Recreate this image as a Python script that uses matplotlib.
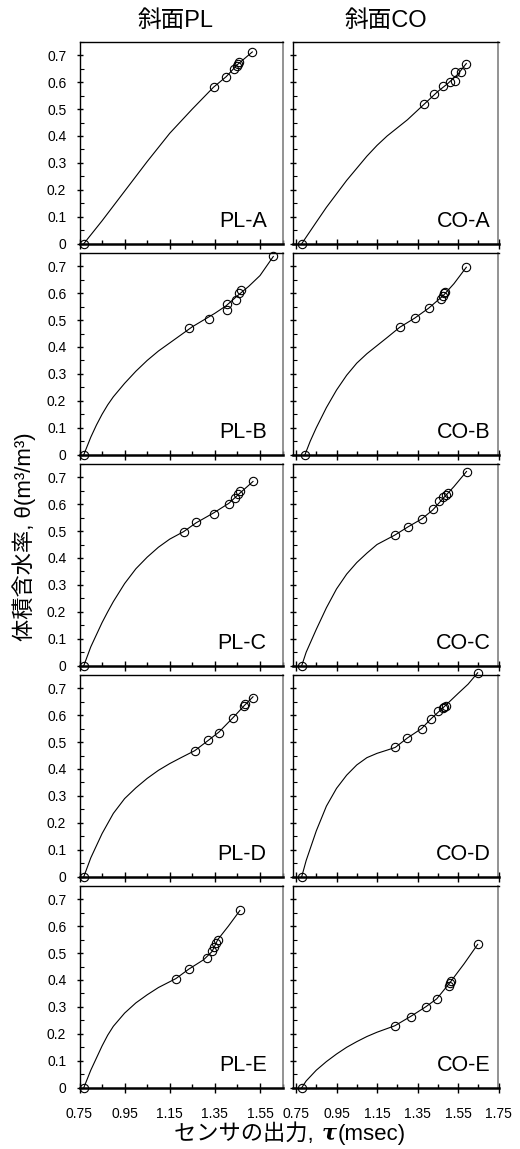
import numpy as np
import matplotlib.pyplot as plt
from matplotlib.offsetbox import TextArea, HPacker, AnnotationBbox

plt.rcParams['font.family'] = ['Liberation Sans', 'Noto Sans CJK JP']

# ---- data ----
# measured points (first one is the dry point at theta = 0)
pl_a_x = [0.769, 1.344, 1.399, 1.436, 1.446, 1.452, 1.457, 1.516]
pl_a_y = [0.0, 0.581, 0.619, 0.650, 0.660, 0.669, 0.675, 0.712]
pl_a_cx = [0.769, 0.85, 0.95, 1.05, 1.15, 1.25, 1.344, 1.40, 1.45, 1.516]
pl_a_cy = [0.0, 0.085, 0.195, 0.305, 0.41, 0.50, 0.581, 0.62, 0.665, 0.712]

co_a_x = [0.778, 1.384, 1.430, 1.474, 1.512, 1.533, 1.533, 1.566, 1.591]
co_a_y = [0.0, 0.520, 0.554, 0.585, 0.601, 0.605, 0.636, 0.636, 0.669]
co_a_cx = [0.778, 0.85, 0.90, 0.95, 1.0, 1.05, 1.10, 1.15, 1.20, 1.25, 1.30, 1.35, 1.40, 1.45, 1.50, 1.55, 1.591]
co_a_cy = [0.0, 0.08, 0.135, 0.185, 0.235, 0.28, 0.325, 0.365, 0.40, 0.43, 0.46, 0.495, 0.53, 0.565, 0.595, 0.63, 0.669]

pl_b_x = [0.769, 1.236, 1.325, 1.403, 1.403, 1.443, 1.455, 1.464, 1.609]
pl_b_y = [0.0, 0.470, 0.502, 0.538, 0.560, 0.575, 0.600, 0.613, 0.736]
pl_b_cx = [0.769, 0.80, 0.825, 0.85, 0.875, 0.90, 0.95, 1.00, 1.05, 1.10, 1.15, 1.20, 1.25, 1.30, 1.35, 1.40, 1.45, 1.50, 1.55, 1.609]
pl_b_cy = [0.0, 0.065, 0.11, 0.15, 0.185, 0.215, 0.265, 0.31, 0.35, 0.385, 0.415, 0.445, 0.475, 0.50, 0.525, 0.553, 0.59, 0.625, 0.665, 0.736]

co_b_x = [0.794, 1.262, 1.336, 1.405, 1.468, 1.476, 1.481, 1.486, 1.591]
co_b_y = [0.0, 0.473, 0.507, 0.544, 0.579, 0.591, 0.600, 0.605, 0.696]
co_b_cx = [0.794, 0.82, 0.85, 0.90, 0.95, 1.00, 1.05, 1.10, 1.15, 1.20, 1.262, 1.336, 1.405, 1.476, 1.53, 1.591]
co_b_cy = [0.0, 0.05, 0.10, 0.175, 0.24, 0.295, 0.34, 0.375, 0.405, 0.435, 0.473, 0.507, 0.544, 0.59, 0.635, 0.696]

pl_c_x = [0.769, 1.212, 1.266, 1.346, 1.412, 1.439, 1.452, 1.461, 1.519]
pl_c_y = [0.0, 0.498, 0.535, 0.565, 0.602, 0.621, 0.639, 0.647, 0.684]
pl_c_cx = [0.769, 0.80, 0.85, 0.875, 0.90, 0.95, 1.00, 1.05, 1.10, 1.15, 1.212, 1.266, 1.346, 1.412, 1.46, 1.519]
pl_c_cy = [0.0, 0.07, 0.16, 0.2, 0.238, 0.305, 0.36, 0.403, 0.44, 0.47, 0.498, 0.53, 0.568, 0.603, 0.64, 0.684]

co_c_x = [0.778, 1.238, 1.302, 1.371, 1.425, 1.455, 1.475, 1.49, 1.50, 1.592]
co_c_y = [0.0, 0.485, 0.515, 0.545, 0.58, 0.61, 0.625, 0.635, 0.64, 0.721]
co_c_cx = [0.778, 0.80, 0.85, 0.90, 0.95, 1.00, 1.05, 1.10, 1.15, 1.238, 1.302, 1.371, 1.425, 1.475, 1.53, 1.592]
co_c_cy = [0.0, 0.05, 0.135, 0.215, 0.285, 0.34, 0.383, 0.418, 0.45, 0.485, 0.515, 0.545, 0.578, 0.62, 0.665, 0.721]

pl_d_x = [0.769, 1.261, 1.319, 1.368, 1.43, 1.479, 1.483, 1.519]
pl_d_y = [0.0, 0.468, 0.506, 0.535, 0.591, 0.632, 0.643, 0.665]
pl_d_cx = [0.769, 0.80, 0.85, 0.90, 0.95, 1.00, 1.05, 1.10, 1.15, 1.20, 1.261, 1.319, 1.368, 1.43, 1.48, 1.519]
pl_d_cy = [0.0, 0.07, 0.16, 0.235, 0.29, 0.33, 0.365, 0.395, 0.42, 0.442, 0.468, 0.505, 0.537, 0.59, 0.635, 0.668]

co_d_x = [0.778, 1.24, 1.30, 1.37, 1.415, 1.45, 1.475, 1.48, 1.49, 1.647]
co_d_y = [0.0, 0.48, 0.515, 0.55, 0.585, 0.615, 0.625, 0.63, 0.635, 0.757]
co_d_cx = [0.778, 0.80, 0.85, 0.90, 0.95, 1.00, 1.05, 1.10, 1.15, 1.20, 1.24, 1.30, 1.37, 1.415, 1.48, 1.55, 1.60, 1.647]
co_d_cy = [0.0, 0.06, 0.17, 0.262, 0.328, 0.377, 0.415, 0.442, 0.458, 0.47, 0.48, 0.515, 0.55, 0.585, 0.63, 0.68, 0.715, 0.757]

pl_e_x = [0.769, 1.177, 1.234, 1.314, 1.337, 1.346, 1.355, 1.363, 1.461]
pl_e_y = [0.0, 0.405, 0.442, 0.48, 0.509, 0.524, 0.539, 0.55, 0.658]
pl_e_cx = [0.769, 0.80, 0.85, 0.875, 0.90, 0.95, 1.00, 1.05, 1.10, 1.177, 1.234, 1.30, 1.337, 1.363, 1.41, 1.461]
pl_e_cy = [0.0, 0.065, 0.155, 0.195, 0.228, 0.277, 0.315, 0.345, 0.372, 0.405, 0.44, 0.475, 0.505, 0.55, 0.60, 0.658]

co_e_x = [0.778, 1.238, 1.317, 1.39, 1.445, 1.504, 1.509, 1.514, 1.647]
co_e_y = [0.0, 0.23, 0.264, 0.30, 0.33, 0.379, 0.39, 0.398, 0.532]
co_e_cx = [0.778, 0.80, 0.85, 0.90, 0.95, 1.00, 1.05, 1.10, 1.15, 1.238, 1.317, 1.39, 1.445, 1.51, 1.58, 1.647]
co_e_cy = [0.0, 0.025, 0.065, 0.097, 0.125, 0.15, 0.171, 0.19, 0.206, 0.23, 0.265, 0.30, 0.33, 0.39, 0.46, 0.532]

panel_names = [['PL-A', 'CO-A'], ['PL-B', 'CO-B'], ['PL-C', 'CO-C'],
               ['PL-D', 'CO-D'], ['PL-E', 'CO-E']]
panel_data = [
    [(pl_a_x, pl_a_y, pl_a_cx, pl_a_cy), (co_a_x, co_a_y, co_a_cx, co_a_cy)],
    [(pl_b_x, pl_b_y, pl_b_cx, pl_b_cy), (co_b_x, co_b_y, co_b_cx, co_b_cy)],
    [(pl_c_x, pl_c_y, pl_c_cx, pl_c_cy), (co_c_x, co_c_y, co_c_cx, co_c_cy)],
    [(pl_d_x, pl_d_y, pl_d_cx, pl_d_cy), (co_d_x, co_d_y, co_d_cx, co_d_cy)],
    [(pl_e_x, pl_e_y, pl_e_cx, pl_e_cy), (co_e_x, co_e_y, co_e_cx, co_e_cy)],
]
col_titles = ['斜面PL', '斜面CO']
x_major = [[0.75, 0.95, 1.15, 1.35, 1.55], [0.75, 0.95, 1.15, 1.35, 1.55, 1.75]]
x_minor = [[0.85, 1.05, 1.25, 1.45, 1.65], [0.85, 1.05, 1.25, 1.45, 1.65]]
y_major = [0, 0.1, 0.2, 0.3, 0.4, 0.5, 0.6, 0.7]
y_labels = ['0', '0.1', '0.2', '0.3', '0.4', '0.5', '0.6', '0.7']
y_minor = [0.05, 0.15, 0.25, 0.35, 0.45, 0.55, 0.65, 0.75]

# ---- layout (pixels) ----
W, H = 520, 1149
fig = plt.figure(figsize=(W / 100, H / 100), dpi=100)
col_px = [(79.5, 283.0), (293.0, 498.5)]
col_xlim = [(0.75, 1.652), (0.735, 1.75)]
lab_x = [0.92, 0.96]
top0, pitch, ph = 41.7, 211, 202

for r in range(5):
    for c in range(2):
        x0, x1 = col_px[c]
        top = top0 + r * pitch
        ax = fig.add_axes([x0 / W, 1 - (top + ph) / H, (x1 - x0) / W, ph / H])
        px, py, cx, cy = panel_data[r][c]
        ax.plot(cx, cy, color='black', lw=0.8, clip_on=False)
        ax.plot(px, py, 'o', ms=6, mfc='none', mec='black', mew=0.8, clip_on=False)
        ax.set_xlim(col_xlim[c])
        ax.set_ylim(0, 0.75)
        ax.set_xticks(x_major[c])
        ax.set_xticks(x_minor[c], minor=True)
        ax.set_yticks(y_major)
        ax.set_yticks(y_minor, minor=True)
        ax.tick_params(axis='x', which='major', direction='inout', length=7.5, width=1, pad=10, labelsize=10)
        ax.tick_params(axis='x', which='minor', direction='in', length=3, width=1)
        ax.tick_params(axis='y', which='major', direction='inout', length=5, width=1, pad=7, labelsize=10)
        ax.tick_params(axis='y', which='minor', direction='in', length=3, width=0.8)
        if r < 4:
            ax.set_xticklabels([])
        if c == 1:
            ax.set_yticklabels([])
        else:
            ax.set_yticklabels(y_labels)
        ax.spines['bottom'].set_linewidth(1.8)
        ax.spines['left'].set_linewidth(1.0)
        ax.spines['top'].set_linewidth(1.0)
        ax.spines['right'].set_linewidth(1.2)
        ax.spines['right'].set_color('#808080')
        ax.text(lab_x[c], 0.082, panel_names[r][c], transform=ax.transAxes,
                ha='right', va='baseline', fontsize=15.5)

fig.text(176 / W, 1 - 21 / H, col_titles[0], ha='center', va='center', fontsize=17)
fig.text(386 / W, 1 - 21 / H, col_titles[1], ha='center', va='center', fontsize=17)
fig.text(24 / W, 1 - 537 / H, '体積含水率, θ(m³/m³)', rotation=90,
         ha='center', va='center', fontsize=16)

# x label with bold italic tau
parts = HPacker(children=[
    TextArea('センサの出力, ', textprops=dict(fontsize=16)),
    TextArea('τ', textprops=dict(fontsize=16, fontweight='bold', fontstyle='italic', family='DejaVu Serif')),
    TextArea('(msec)', textprops=dict(fontsize=16)),
], align='baseline', pad=0, sep=1)
fig.add_artist(AnnotationBbox(parts, (290 / W, 1 - 1134 / H), xycoords='figure fraction',
                              frameon=False, box_alignment=(0.5, 0.5)))

plt.savefig('out.png', dpi=100)
